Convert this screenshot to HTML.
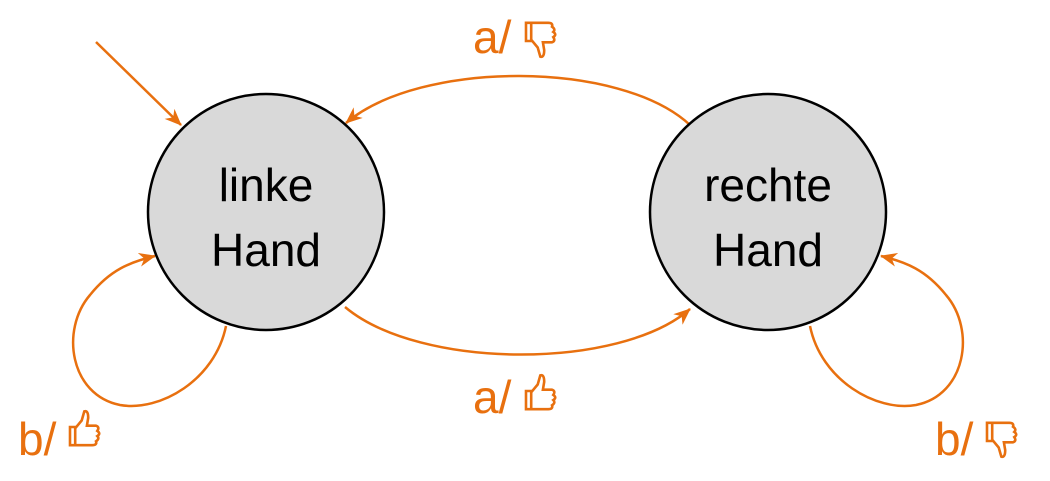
<!DOCTYPE html>
<html><head><style>
html,body{margin:0;padding:0;background:#fff;}
svg{display:block;}
text{font-family:"Liberation Sans",sans-serif;}
</style></head><body>
<svg width="1050" height="481" viewBox="0 0 1050 481" xmlns="http://www.w3.org/2000/svg">
<defs>
<marker id="ah2" markerWidth="18" markerHeight="14" refX="16" refY="7" orient="auto" markerUnits="userSpaceOnUse">
<path d="M0,0 L17,7 L0,14 L5,7 Z" fill="#E8700F"/>
</marker>
<g id="up" fill="none" stroke="#E8700F" stroke-width="2">
<path d="M0,10 L4,10 L4,24 L0,24 Z"/>
<path d="M4,11 L9,5 L11,-2 Q14,-3 14,3 L13,9 L20,9 Q23,10 21,13 Q24,15 21,17 Q23,19 20,21 Q21,24 17,24 L4,24"/>
</g>
</defs>
<g fill="none" stroke="#E8700F" stroke-width="2.5">
<path d="M96,42 L181,125" marker-end="url(#ah2)"/>
<path d="M690,125 C620,60 420,60 346,123" marker-end="url(#ah2)"/>
<path d="M345,307 C420,370 620,370 690,309" marker-end="url(#ah2)"/>
<path d="M226,326 C215,380 160,412 120,405 C70,395 60,330 90,295 C110,270 130,262 155,256" marker-end="url(#ah2)"/>
<path d="M810,326 C821,380 876,412 916,405 C966,395 976,330 946,295 C926,270 906,262 881,256" marker-end="url(#ah2)"/>
</g>
<circle cx="266" cy="212" r="118" fill="#D9D9D9" stroke="#000" stroke-width="2.5"/>
<circle cx="768" cy="212" r="118" fill="#D9D9D9" stroke="#000" stroke-width="2.5"/>
<g font-size="46" fill="#000" text-anchor="middle">
<text x="266" y="201">linke</text>
<text x="266" y="266">Hand</text>
<text x="768" y="201">rechte</text>
<text x="768" y="266">Hand</text>
</g>
<g font-size="46" fill="#E8700F">
<text x="473" y="53">a/</text>
<text x="473" y="413">a/</text>
<text x="18" y="455">b/</text>
<text x="935" y="455">b/</text>
</g>
<use href="#up" transform="translate(526,54) scale(1.3,-1.3)"/>
<use href="#up" transform="translate(526,378) scale(1.3)"/>
<use href="#up" transform="translate(70,414) scale(1.3)"/>
<use href="#up" transform="translate(987,454) scale(1.3,-1.3)"/>
</svg>
</body></html>
